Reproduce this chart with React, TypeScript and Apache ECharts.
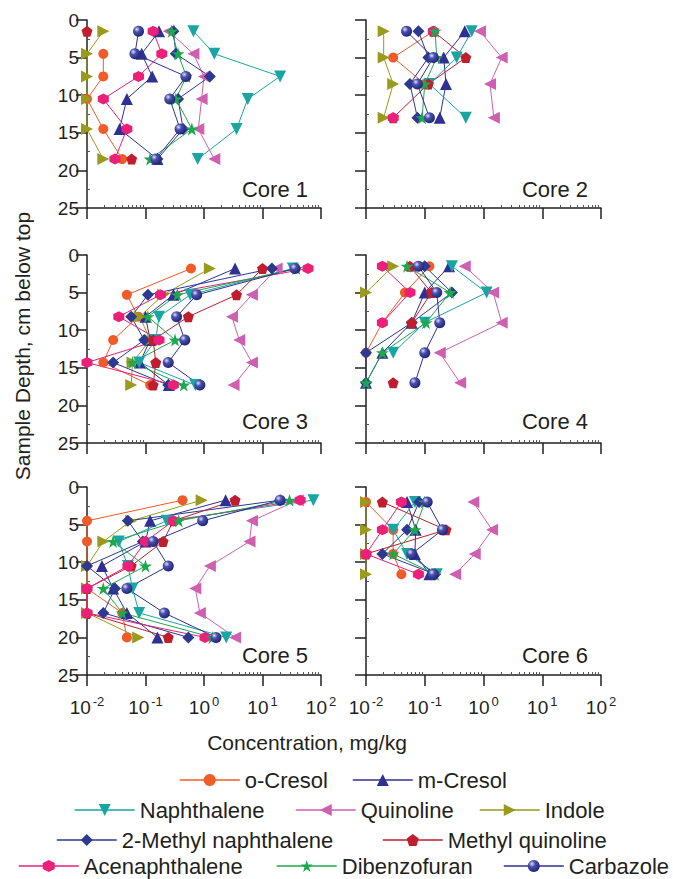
import React, { useEffect, useRef } from "react";
import * as echarts from "echarts";

// ---------- data ----------
const coreNames = ["Core 1", "Core 2", "Core 3", "Core 4", "Core 5", "Core 6"];
const depthCore1 = [1.5, 4.5, 7.5, 10.5, 14.5, 18.5];
const depthCore2 = [1.5, 5, 8.5, 13];
const depthCore3 = [1.8, 5.3, 8.2, 11.3, 14.3, 17.3];
const depthCore4 = [1.5, 5, 9, 13, 17];
const depthCore5 = [1.75, 4.5, 7.25, 10.5, 13.5, 16.75, 20];
const depthCore6 = [2, 5.7, 8.9, 11.6];
const depths = [depthCore1, depthCore2, depthCore3, depthCore4, depthCore5, depthCore6];

const depthTicks = [0, 5, 10, 15, 20, 25];
const concentrationExponents = [-2, -1, 0, 1, 2];

// values per core (mg/kg), null = not reported
const oCresol = [
  [null, 0.019, 0.019, 0.01, 0.019, 0.04],
  [0.14, 0.029, 0.1, null],
  [0.6, 0.048, 0.075, 0.028, 0.019, 0.12],
  [0.12, 0.046, 0.019, 0.01, null],
  [0.43, 0.01, 0.01, 0.01, 0.01, 0.04, 0.048],
  [0.01, 0.029, 0.029, 0.04],
];
const mCresol = [
  [0.17, 0.086, 0.13, 0.048, 0.036, 0.16],
  [0.48, 0.21, 0.23, 0.18],
  [3.4, 0.3, 0.1, 0.12, 0.08, 0.25],
  [0.26, 0.1, 0.06, 0.019, 0.01],
  [2.34, 0.12, 0.1, 0.018, 0.028, 0.048, 0.16],
  [0.05, 0.07, 0.068, 0.12],
];
const naphthalene = [
  [0.66, 1.5, 20, 5.6, 3.6, 0.78],
  [0.63, 0.35, 0.12, 0.5],
  [33, 0.58, 0.17, 0.15, 0.078, 0.71],
  [0.29, 1.13, 0.1, 0.029, null],
  [74, 0.23, 0.035, 0.05, 0.06, 0.078, 2.4],
  [0.068, 0.029, 0.05, 0.16],
];
const quinoline = [
  [0.25, 0.66, 1.0, 0.91, 0.8, 1.5],
  [0.87, 2.04, 1.29, 1.5],
  [17.5, 6.6, 3.0, 4.0, 6.6, 3.2],
  [0.48, 1.46, 2.04, 0.18, 0.4],
  [40, 6.6, 6.0, 1.26, 0.71, 0.85, 3.4],
  [0.67, 1.4, 0.71, 0.33],
];
const indole = [
  [0.019, 0.01, 0.01, 0.01, 0.01, 0.019],
  [0.02, 0.02, 0.029, 0.02],
  [1.26, 0.2, 0.08, 0.12, 0.06, 0.057],
  [0.029, 0.01, null, null, null],
  [0.91, 0.057, 0.019, 0.01, 0.01, 0.01, 0.075],
  [0.01, 0.01, 0.01, 0.01],
];
const methylNaphthalene = [
  [0.3, 0.33, 1.26, 0.36, 0.44, 0.16],
  [0.078, 0.115, 0.056, 0.075],
  [14.5, 0.11, 0.057, 0.095, 0.028, 0.245],
  [0.1, 0.29, 0.06, 0.01, 0.01],
  [20, 0.05, 0.09, 0.01, 0.03, 0.019, 0.54],
  [0.08, 0.05, 0.019, 0.15],
];
const methylQuinoline = [
  [0.01, null, null, null, null, 0.058],
  [0.14, 0.5, 0.115, 0.029],
  [10, 3.6, 0.54, 0.135, 0.15, 0.135],
  [0.056, 0.13, 0.06, null, 0.029],
  [3.4, 0.3, 0.2, 0.057, 0.01, 0.01, 0.245],
  [0.019, 0.23, 0.01, null],
];
const acenaphthalene = [
  [0.135, 0.19, 0.076, 0.019, 0.048, 0.03],
  [0.14, null, null, 0.029],
  [60, 0.18, 0.035, 0.17, 0.01, 0.3],
  [0.019, 0.056, 0.019, null, null],
  [44, 0.3, 0.1, 0.05, 0.01, 0.01, 1.04],
  [0.04, 0.019, 0.01, 0.078],
];
const dibenzofuran = [
  [0.28, 0.36, 0.5, 0.33, 0.62, 0.12],
  [0.15, 0.16, 0.1, 0.09],
  [38, 0.35, 0.11, 0.32, 0.06, 0.45],
  [0.05, 0.27, 0.105, 0.019, 0.01],
  [29, 0.37, 0.028, 0.1, 0.019, 0.04, 1.4],
  [0.1, 0.068, 0.029, 0.15],
];
const carbazole = [
  [0.076, 0.066, 0.49, 0.26, 0.39, 0.15],
  [0.049, 0.14, 0.075, 0.12],
  [36, 0.75, 0.34, 0.47, 0.245, 0.85],
  [0.078, 0.16, 0.18, 0.1, 0.068],
  [20, 0.95, 0.135, 0.245, 0.048, 0.21, 1.6],
  [0.11, 0.2, 0.06, 0.14],
];

// legend rows (names in each row)
const legendRows = [
  ["o-Cresol", "m-Cresol"],
  ["Naphthalene", "Quinoline", "Indole"],
  ["2-Methyl naphthalene", "Methyl quinoline"],
  ["Acenaphthalene", "Dibenzofuran", "Carbazole"],
];

// ---------- styles / layout ----------
const FONT = "'Liberation Sans', Arial, Helvetica, sans-serif";
const INK = "#231f20";
const PENTAGON = "path://M50,0 L97.55,34.55 L79.39,90.45 L20.61,90.45 L2.45,34.55 Z";
const HEXAGON = "path://M50,0 L93.3,25 L93.3,75 L50,100 L6.7,75 L6.7,25 Z";
const STAR =
  "path://M50,0 L61.23,34.55 L97.55,34.55 L68.17,55.9 L79.39,90.45 L50,69.1 L20.61,90.45 L31.83,55.9 L2.45,34.55 L38.77,34.55 Z";

const sphere = new echarts.graphic.RadialGradient(0.35, 0.32, 0.75, [
  { offset: 0, color: "#dfe1f5" },
  { offset: 0.35, color: "#4a50ad" },
  { offset: 1, color: "#1c1f70" },
]);

const chemicals = [
  { name: "o-Cresol", values: oCresol, color: "#f15a29", symbol: "circle", size: 10, rotate: 0 },
  { name: "m-Cresol", values: mCresol, color: "#2e3192", symbol: "triangle", size: 12, rotate: 0 },
  { name: "Naphthalene", values: naphthalene, color: "#19a6a2", symbol: "triangle", size: 12, rotate: 180 },
  { name: "Quinoline", values: quinoline, color: "#cf5fb0", symbol: "triangle", size: 12, rotate: 90 },
  { name: "Indole", values: indole, color: "#9a9a1c", symbol: "triangle", size: 12, rotate: -90 },
  { name: "2-Methyl naphthalene", values: methylNaphthalene, color: "#2b3990", symbol: "diamond", size: 12, rotate: 0 },
  { name: "Methyl quinoline", values: methylQuinoline, color: "#be1e2d", symbol: PENTAGON, size: 11, rotate: 0 },
  { name: "Acenaphthalene", values: acenaphthalene, color: "#ec2079", symbol: HEXAGON, size: 11, rotate: 0 },
  { name: "Dibenzofuran", values: dibenzofuran, color: "#1ea84e", symbol: STAR, size: 13, rotate: 0 },
  { name: "Carbazole", values: carbazole, color: "#2e3192", symbol: "circle", size: 11, rotate: 0, fill: sphere },
];

const colLeft = [87, 366];
const colWidth = [234, 235];
const rowTop = [20, 255, 487];
const gridHeight = 188;
const legendItemLeft = [
  [179, 352],
  [74, 295, 479],
  [56, 382],
  [18, 276, 503],
];
const legendRowTop = [769, 799, 829, 855];

export default function App() {
  const ref = useRef<HTMLDivElement>(null);

  useEffect(() => {
    if (!ref.current) return;
    const chart = echarts.init(ref.current, null, { renderer: "svg" });

    const grids: any[] = [];
    const xAxes: any[] = [];
    const yAxes: any[] = [];
    const series: any[] = [];
    const graphics: any[] = [];

    coreNames.forEach((core, i) => {
      const row = Math.floor(i / 2);
      const col = i % 2;
      grids.push({ left: colLeft[col], top: rowTop[row], width: colWidth[col], height: gridHeight });
      xAxes.push({
        type: "log",
        logBase: 10,
        gridIndex: i,
        min: Math.pow(10, concentrationExponents[0]),
        max: Math.pow(10, concentrationExponents[concentrationExponents.length - 1]),
        axisLine: { show: true, onZero: false, lineStyle: { color: INK, width: 1.5 } },
        axisTick: { show: true, inside: false, length: 11, lineStyle: { color: INK, width: 1.5 } },
        minorTick: { show: true, splitNumber: 9, length: -3, lineStyle: { color: "#555", width: 1 } },
        splitLine: { show: false },
        minorSplitLine: { show: false },
        axisLabel: {
          show: row === 2,
          margin: 20,
          formatter: (v: number) => `{b|10}{s|${Math.round(Math.log10(v))}}`,
          rich: {
            b: { fontSize: 19, fontFamily: FONT, color: INK, verticalAlign: "bottom" },
            s: { fontSize: 13, fontFamily: FONT, color: INK, verticalAlign: "bottom", padding: [0, 0, 9, 2] },
          },
        },
      });
      yAxes.push({
        type: "value",
        gridIndex: i,
        inverse: true,
        min: depthTicks[0],
        max: depthTicks[depthTicks.length - 1],
        interval: 5,
        axisLine: { show: true, onZero: false, lineStyle: { color: INK, width: 1.5 } },
        axisTick: { show: true, inside: false, length: 11, lineStyle: { color: INK, width: 1.5 } },
        minorTick: { show: true, splitNumber: 2, length: -3, lineStyle: { color: "#555", width: 1 } },
        splitLine: { show: false },
        axisLabel: { show: col === 0, fontSize: 19, fontFamily: FONT, color: INK, margin: 8 },
      });
      chemicals.forEach((chem) => {
        series.push({
          type: "line",
          name: chem.name,
          xAxisIndex: i,
          yAxisIndex: i,
          clip: false,
          symbol: chem.symbol,
          symbolSize: chem.size,
          symbolRotate: chem.rotate,
          showAllSymbol: true,
          connectNulls: false,
          lineStyle: { color: chem.color, width: 1 },
          itemStyle: { color: (chem as any).fill || chem.color, borderWidth: 0 },
          emphasis: { disabled: true },
          data: depths[i].map((d, j) => {
            const v = chem.values[i][j];
            return [v === null ? "-" : v, d];
          }),
        });
      });
      graphics.push({
        type: "text",
        x: colLeft[col] + (col === 0 ? 221 : 222),
        y: rowTop[row] + (row === 0 ? 169 : row === 1 ? 166 : 168),
        style: { text: core, fontSize: 22, fontFamily: FONT, fill: INK, align: "right", verticalAlign: "middle" },
      });
    });

    graphics.push({
      type: "text",
      x: 22,
      y: 346,
      rotation: Math.PI / 2,
      style: { text: "Sample Depth, cm below top", fontSize: 21, fontFamily: FONT, fill: INK, align: "center", verticalAlign: "middle" },
    });
    graphics.push({
      type: "text",
      x: 307,
      y: 742,
      style: { text: "Concentration, mg/kg", fontSize: 21, fontFamily: FONT, fill: INK, align: "center", verticalAlign: "middle" },
    });

    const legends: any[] = [];
    legendRows.forEach((names, r) => {
      names.forEach((name, k) => {
        legends.push({
          data: [name],
          left: legendItemLeft[r][k],
          top: legendRowTop[r],
          orient: "horizontal",
          itemWidth: 60,
          itemHeight: 15,
          itemGap: 0,
          padding: 0,
          selectedMode: false,
          lineStyle: { width: 1.5 },
          textStyle: { fontSize: 22, fontFamily: FONT, color: INK },
        });
      });
    });

    chart.setOption({
      animation: false,
      backgroundColor: "#ffffff",
      grid: grids,
      xAxis: xAxes,
      yAxis: yAxes,
      series,
      legend: legends,
      graphic: graphics,
    });

    return () => chart.dispose();
  }, []);

  return (
    <div
      ref={ref}
      style={{ position: "fixed", left: 0, top: 0, width: 673, height: 879, background: "#fff" }}
    />
  );
}
